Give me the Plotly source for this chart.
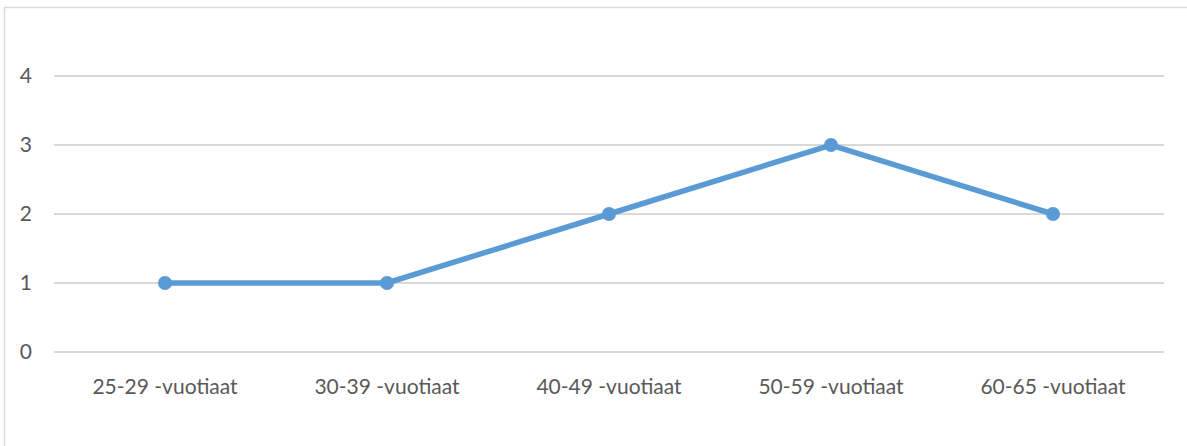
import plotly.graph_objects as go

categories = ["25-29 -vuotiaat", "30-39 -vuotiaat", "40-49 -vuotiaat", "50-59 -vuotiaat", "60-65 -vuotiaat"]
values = [1, 1, 2, 3, 2]
y_ticks = [0, 1, 2, 3, 4]

W, H = 1187, 446
L, R = 54, 23
ymin, ymax = -0.03, 4.03
ppu = 69.0  # pixels per unit
T = 76 - (ymax - 4) * ppu
B = H - 352 - (0 - ymin) * ppu
pw, ph = W - L - R, H - T - B

fig = go.Figure()
fig.add_trace(go.Scatter(
    x=categories, y=values, mode="lines+markers",
    line=dict(color="#5B9BD5", width=5.5),
    marker=dict(color="#5B9BD5", size=14),
    showlegend=False, hoverinfo="skip",
))

# chart border (cropped at right and bottom)
x0 = (4.5 - L) / pw
x1 = (W + 10 - L) / pw
y1 = (H - B - 7.5) / ph
y0 = (H - B - (H + 10)) / ph
fig.add_shape(type="rect", xref="paper", yref="paper", x0=x0, x1=x1, y0=y0, y1=y1,
              line=dict(color="#D9D9D9", width=1.5), layer="below")

fig.update_layout(
    width=W, height=H,
    margin=dict(l=L, r=R, t=T, b=B, pad=0),
    paper_bgcolor="white", plot_bgcolor="white",
    font=dict(family="Lato, Carlito, sans-serif", size=21, color="#595959"),
)
fig.update_xaxes(type="category", range=[-0.5, 4.5], showgrid=False, showline=False,
                 zeroline=False, ticks="", ticklabelstandoff=18,
                 tickfont=dict(size=21, color="#595959"))
fig.update_yaxes(range=[ymin, ymax], tickvals=y_ticks, showgrid=True, gridcolor="#D9D9D9",
                 gridwidth=1.5, zeroline=False, showline=False, ticks="",
                 ticklabelstandoff=21, tickfont=dict(size=21, color="#595959"))

fig.write_html("out.html", config={"displayModeBar": False},
               post_script="document.body.style.margin='0';document.body.style.overflow='hidden';")
